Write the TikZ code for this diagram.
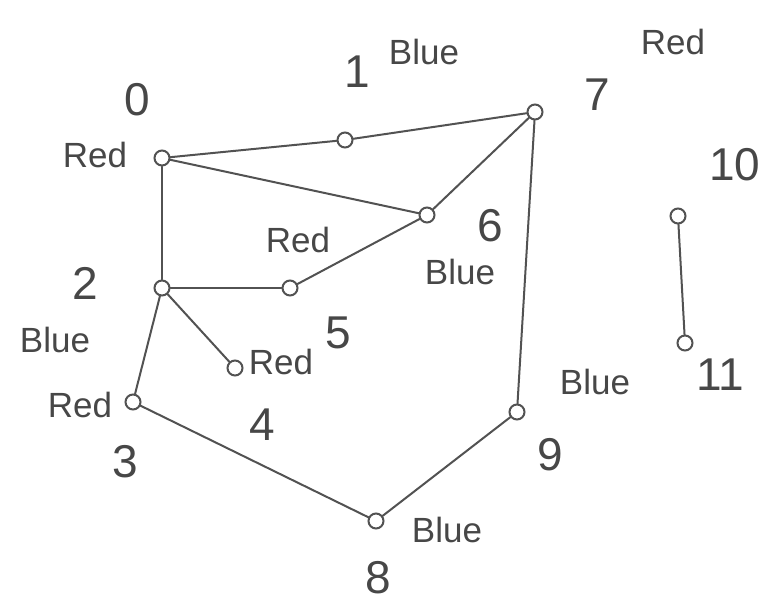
\documentclass[tikz,border=0pt]{standalone}
\usepackage{fontspec}
\setmainfont{Liberation Sans}
\begin{document}
\begin{tikzpicture}[x=1pt,y=-1pt,
  ink/.style={draw=black!68, line width=2pt},
  vtx/.style={ink, circle, inner sep=0pt, minimum size=15pt},
  edge/.style={ink, line cap=round},
  num/.style={text=black!72, font=\fontsize{46}{46}\selectfont, inner sep=0pt},
  word/.style={text=black!72, font=\fontsize{35}{35}\selectfont, inner sep=0pt}]
\useasboundingbox (0,0) rectangle (764,606);
% vertices
\node[vtx] (n0) at (162,158) {};
\node[vtx] (n1) at (345,140) {};
\node[vtx] (n7) at (535,112) {};
\node[vtx] (n6) at (427,215) {};
\node[vtx] (n5) at (290,288) {};
\node[vtx] (n2) at (162,288) {};
\node[vtx] (n4) at (235,368) {};
\node[vtx] (n3) at (133,402) {};
\node[vtx] (n8) at (376,521) {};
\node[vtx] (n9) at (517,412) {};
\node[vtx] (n10) at (678,216) {};
\node[vtx] (n11) at (685,343) {};
% edges
\draw[edge] (n0) -- (n1);
\draw[edge] (n0) -- (n6);
\draw[edge] (n0) -- (n2);
\draw[edge] (n1) -- (n7);
\draw[edge] (n7) -- (n6);
\draw[edge] (n7) -- (n9);
\draw[edge] (n6) -- (n5);
\draw[edge] (n2) -- (n5);
\draw[edge] (n2) -- (n4);
\draw[edge] (n2) -- (n3);
\draw[edge] (n3) -- (n8);
\draw[edge] (n8) -- (n9);
\draw[edge] (n10) -- (n11);
% labels
\node[num] (l0) at (137,100) {0};
\node[word] (c0) at (95,155) {Red};
\node[num] (l1) at (357,72) {1};
\node[word] (c1) at (424,52) {Blue};
\node[num] (l7) at (597,95) {7};
\node[word] (c7) at (673,42) {Red};
\node[num] (l10) at (735,165) {10};
\node[num] (l6) at (490,226) {6};
\node[word] (c6) at (460,272) {Blue};
\node[word] (c5) at (298,240) {Red};
\node[num] (l5) at (338,333) {5};
\node[num] (l2) at (85,283) {2};
\node[word] (c2) at (55,340) {Blue};
\node[word] (c4) at (281,362) {Red};
\node[num] (l4) at (262,425) {4};
\node[word] (c3) at (80,405) {Red};
\node[num] (l3) at (125,462) {3};
\node[word] (c9) at (595,382) {Blue};
\node[num] (l9) at (550,455) {9};
\node[num] (l11) at (720,375) {11};
\node[word] (c8) at (447,530) {Blue};
\node[num] (l8) at (378,578) {8};
\end{tikzpicture}
\end{document}
